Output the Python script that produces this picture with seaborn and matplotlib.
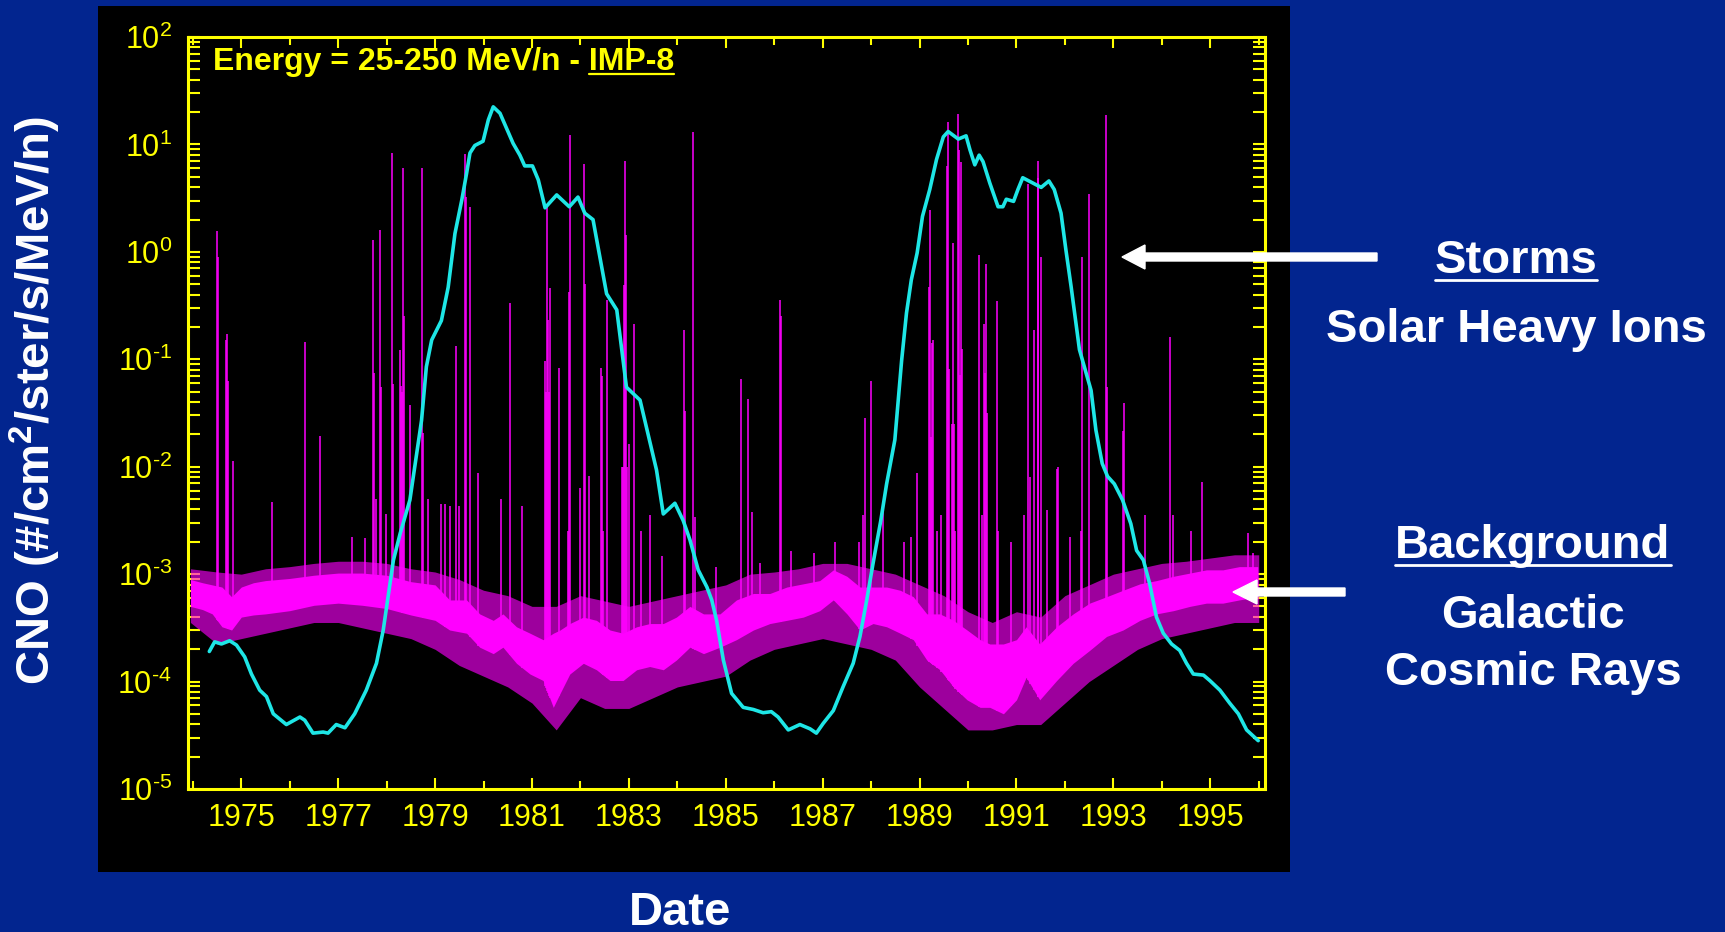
import numpy as np
import pandas as pd
import seaborn as sns
import matplotlib
matplotlib.use("Agg")
from matplotlib import pyplot as plt
from matplotlib.patches import Rectangle, FancyArrow
from matplotlib.lines import Line2D
from matplotlib.ticker import (FixedLocator, MultipleLocator, LogLocator,
                               NullFormatter, FuncFormatter)
from matplotlib.transforms import IdentityTransform

# ---- data (log10 of flux) ----
tick_years = [1975, 1977, 1979, 1981, 1983, 1985, 1987, 1989, 1991, 1993, 1995]

# smooth cyan curve: (year, log10 flux)
gcr_curve = [
    (1974.34, -3.72), (1974.45, -3.63), (1974.59, -3.65), (1974.76, -3.62), (1974.90, -3.66),
    (1975.07, -3.77), (1975.21, -3.93), (1975.38, -4.08), (1975.52, -4.14), (1975.66, -4.30),
    (1975.93, -4.40), (1976.21, -4.33), (1976.31, -4.36), (1976.48, -4.48), (1976.69, -4.47),
    (1976.79, -4.48), (1976.96, -4.40), (1977.14, -4.43), (1977.34, -4.30), (1977.58, -4.08),
    (1977.79, -3.83), (1977.93, -3.52), (1978.03, -3.21), (1978.14, -2.87), (1978.28, -2.62),
    (1978.48, -2.31), (1978.72, -1.57), (1978.82, -1.07), (1978.93, -0.82), (1979.13, -0.64),
    (1979.27, -0.33), (1979.41, 0.17), (1979.55, 0.48), (1979.65, 0.73), (1979.72, 0.92),
    (1979.82, 0.99), (1979.99, 1.03), (1980.10, 1.23), (1980.20, 1.35), (1980.34, 1.29),
    (1980.61, 1.01), (1980.75, 0.90), (1980.85, 0.80), (1981.01, 0.80), (1981.13, 0.67),
    (1981.27, 0.41), (1981.51, 0.53), (1981.77, 0.42), (1981.95, 0.51), (1982.09, 0.36),
    (1982.26, 0.30), (1982.54, -0.39), (1982.75, -0.54), (1982.95, -1.26), (1983.09, -1.32),
    (1983.23, -1.38), (1983.57, -2.03), (1983.71, -2.44), (1983.95, -2.34), (1984.12, -2.50),
    (1984.26, -2.68), (1984.43, -2.96), (1984.61, -3.12), (1984.71, -3.24), (1984.81, -3.43),
    (1984.95, -3.80), (1985.12, -4.11), (1985.36, -4.24), (1985.57, -4.26), (1985.77, -4.29),
    (1985.94, -4.28), (1986.08, -4.33), (1986.29, -4.45), (1986.53, -4.40), (1986.74, -4.44),
    (1986.87, -4.48), (1987.01, -4.39), (1987.22, -4.27), (1987.42, -4.05), (1987.63, -3.83),
    (1987.77, -3.58), (1987.91, -3.24), (1988.04, -2.90), (1988.20, -2.50), (1988.32, -2.16),
    (1988.49, -1.75), (1988.63, -1.01), (1988.73, -0.57), (1988.83, -0.26), (1988.95, -0.01),
    (1989.06, 0.33), (1989.21, 0.58), (1989.35, 0.86), (1989.49, 1.07), (1989.59, 1.12),
    (1989.80, 1.05), (1989.96, 1.08), (1990.04, 0.95), (1990.14, 0.81), (1990.23, 0.90),
    (1990.31, 0.84), (1990.45, 0.64), (1990.62, 0.42), (1990.72, 0.42), (1990.79, 0.49),
    (1990.94, 0.47), (1991.03, 0.58), (1991.13, 0.69), (1991.30, 0.65), (1991.51, 0.60),
    (1991.67, 0.66), (1991.78, 0.58), (1991.92, 0.36), (1992.02, 0.02), (1992.13, -0.33),
    (1992.23, -0.67), (1992.30, -0.91), (1992.44, -1.13), (1992.54, -1.29), (1992.64, -1.66),
    (1992.77, -1.97), (1992.88, -2.09), (1993.02, -2.16), (1993.19, -2.31), (1993.36, -2.53),
    (1993.48, -2.78), (1993.62, -2.87), (1993.75, -3.09), (1993.89, -3.40), (1994.03, -3.55),
    (1994.20, -3.65), (1994.37, -3.71), (1994.51, -3.83), (1994.65, -3.93), (1994.86, -3.94),
    (1994.99, -3.99), (1995.20, -4.08), (1995.40, -4.20), (1995.58, -4.30), (1995.75, -4.45),
    (1995.99, -4.55),
]

# dense galactic background band (core), log10 flux
band_years = [1973.95, 1974.2, 1974.4, 1974.6, 1974.8, 1975.0, 1975.25, 1975.5, 1976.0, 1976.5,
              1977.0, 1977.5, 1978.0, 1978.5, 1979.0, 1979.3, 1979.65, 1979.92, 1980.2, 1980.4,
              1980.68, 1980.96, 1981.23, 1981.44, 1981.58, 1981.78, 1982.06, 1982.33, 1982.61, 1982.88,
              1983.16, 1983.43, 1983.71, 1983.98, 1984.26, 1984.54, 1984.88, 1985.22, 1985.57, 1985.91,
              1986.26, 1986.6, 1986.94, 1987.22, 1987.5, 1987.77, 1988.04, 1988.32, 1988.6, 1988.87,
              1989.15, 1989.42, 1989.7, 1989.98, 1990.25, 1990.45, 1990.73, 1991.0, 1991.2, 1991.48,
              1991.83, 1992.17, 1992.51, 1992.86, 1993.2, 1993.55, 1993.89, 1994.24, 1994.58, 1994.92,
              1995.26, 1995.6, 1995.98]
band_hi = [-3.05, -3.08, -3.10, -3.12, -3.21, -3.12, -3.08, -3.06, -3.04, -3.01,
           -2.99, -2.99, -3.01, -3.07, -3.10, -3.24, -3.24, -3.37, -3.43, -3.37,
           -3.49, -3.55, -3.61, -3.55, -3.52, -3.46, -3.40, -3.43, -3.52, -3.55,
           -3.49, -3.46, -3.46, -3.40, -3.30, -3.37, -3.37, -3.24, -3.18, -3.18,
           -3.12, -3.09, -3.06, -2.96, -3.02, -3.12, -3.12, -3.12, -3.15, -3.21,
           -3.37, -3.37, -3.43, -3.52, -3.61, -3.65, -3.65, -3.61, -3.49, -3.65,
           -3.49, -3.37, -3.27, -3.21, -3.15, -3.09, -3.06, -3.02, -2.99, -2.96,
           -2.96, -2.93, -2.93]
band_lo = [-3.30, -3.33, -3.37, -3.49, -3.52, -3.40, -3.38, -3.37, -3.34, -3.29,
           -3.27, -3.29, -3.32, -3.38, -3.43, -3.52, -3.55, -3.68, -3.74, -3.68,
           -3.83, -3.93, -3.99, -4.24, -4.11, -3.93, -3.83, -3.89, -3.99, -3.99,
           -3.89, -3.86, -3.89, -3.80, -3.68, -3.74, -3.68, -3.61, -3.52, -3.46,
           -3.43, -3.40, -3.34, -3.24, -3.37, -3.52, -3.46, -3.49, -3.55, -3.61,
           -3.80, -3.89, -4.05, -4.17, -4.24, -4.24, -4.30, -4.17, -3.96, -4.17,
           -3.99, -3.83, -3.71, -3.58, -3.52, -3.43, -3.37, -3.34, -3.30, -3.27,
           -3.27, -3.24, -3.21]

# sparse fringe around the band, log10 flux
fringe_years = [1973.95, 1974.5, 1975.0, 1975.5, 1976.0, 1976.5, 1977.0, 1977.5, 1978.0, 1978.5,
                1979.0, 1979.5, 1980.0, 1980.5, 1981.0, 1981.5, 1982.0, 1982.5, 1983.0, 1983.5,
                1984.0, 1984.5, 1985.0, 1985.5, 1986.0, 1986.5, 1987.0, 1987.5, 1988.0, 1988.5,
                1989.0, 1989.5, 1990.0, 1990.5, 1991.0, 1991.5, 1992.0, 1992.5, 1993.0, 1993.5,
                1994.0, 1994.5, 1995.0, 1995.5, 1996.0]
fringe_hi = [-2.95, -2.98, -3.0, -2.95, -2.93, -2.9, -2.88, -2.88, -2.9, -2.95,
             -2.98, -3.05, -3.15, -3.2, -3.3, -3.3, -3.2, -3.25, -3.3, -3.25,
             -3.2, -3.15, -3.1, -3.0, -2.98, -2.95, -2.9, -2.9, -2.95, -3.0,
             -3.1, -3.2, -3.35, -3.45, -3.35, -3.4, -3.2, -3.1, -3.0, -2.95,
             -2.9, -2.88, -2.85, -2.82, -2.82]
fringe_lo = [-3.45, -3.65, -3.6, -3.55, -3.5, -3.45, -3.45, -3.5, -3.55, -3.6,
             -3.7, -3.85, -3.95, -4.05, -4.2, -4.45, -4.15, -4.25, -4.25, -4.15,
             -4.05, -4.0, -3.95, -3.8, -3.7, -3.65, -3.6, -3.65, -3.7, -3.8,
             -4.05, -4.25, -4.45, -4.45, -4.4, -4.4, -4.2, -4.0, -3.85, -3.7,
             -3.6, -3.55, -3.5, -3.45, -3.45]

# solar storm spikes: (year, log10 peak flux)
storm_spikes = [
    (1974.49, 0.19), (1974.51, -0.05), (1974.68, -0.82), (1974.70, -0.76), (1974.72, -1.20),
    (1974.83, -1.95), (1975.63, -2.33), (1976.32, -0.84), (1976.63, -1.71), (1977.29, -2.65),
    (1977.55, -2.66), (1977.72, 0.11), (1977.74, -1.13), (1977.78, -2.30), (1977.87, 0.20),
    (1977.89, -1.26), (1977.98, -2.44), (1978.11, 0.92), (1978.13, -1.23), (1978.27, -0.91),
    (1978.29, -1.25), (1978.31, -1.30), (1978.33, 0.78), (1978.35, -0.60), (1978.48, -1.43),
    (1978.73, 0.78), (1978.75, -1.69), (1978.86, -2.30), (1979.12, -2.35), (1979.20, -2.35),
    (1979.30, -2.37), (1979.44, -0.88), (1979.50, -2.37), (1979.62, 0.91), (1979.64, 0.51),
    (1979.72, 0.42), (1979.89, -2.06), (1980.37, -2.30), (1980.54, -0.48), (1980.80, -2.37),
    (1981.27, -1.02), (1981.29, -1.30), (1981.31, 0.45), (1981.33, -0.63), (1981.35, -1.30),
    (1981.37, -0.34), (1981.55, -1.08), (1981.75, -2.60), (1981.77, -0.37), (1981.78, 1.09),
    (1981.99, -2.20), (1982.07, 0.82), (1982.09, -0.30), (1982.18, -2.09), (1982.42, -1.08),
    (1982.44, -1.16), (1982.46, -2.60), (1982.54, -0.45), (1982.86, -2.00), (1982.88, -2.00),
    (1982.90, -0.31), (1982.92, 0.85), (1982.94, 0.16), (1982.96, -2.00), (1983.00, -1.79),
    (1983.11, -0.67), (1983.25, -2.60), (1983.43, -2.45), (1983.68, -2.83), (1984.13, -0.73),
    (1984.15, -1.48), (1984.33, 1.12), (1984.37, -2.47), (1984.80, -2.93), (1985.32, -1.18),
    (1985.45, -1.37), (1985.55, -2.42), (1985.71, -2.90), (1986.11, -0.45), (1986.13, -0.60),
    (1986.34, -2.78), (1986.82, -2.80), (1987.25, -2.70), (1987.76, -2.70), (1987.84, -2.45),
    (1987.87, -1.55), (1988.00, -1.20), (1988.24, -2.36), (1988.67, -2.70), (1988.83, -2.65),
    (1988.95, -2.06), (1989.20, -0.33), (1989.21, 0.39), (1989.23, -1.72), (1989.25, -0.85),
    (1989.28, -0.82), (1989.36, -2.60), (1989.45, -2.45), (1989.56, 0.80), (1989.59, 1.21),
    (1989.61, -1.09), (1989.66, -1.60), (1989.69, 0.08), (1989.71, -1.60), (1989.74, -2.60),
    (1989.80, 1.28), (1989.82, 0.95), (1989.84, -1.15), (1989.86, 0.84), (1989.88, -0.90),
    (1990.22, -0.03), (1990.29, -2.45), (1990.32, -0.67), (1990.35, -1.13), (1990.37, -0.11),
    (1990.40, -1.50), (1990.60, -0.46), (1990.61, -2.60), (1990.88, -2.70), (1991.16, -2.45),
    (1991.23, 0.63), (1991.28, -2.10), (1991.36, -0.73), (1991.44, 0.85), (1991.45, 0.69),
    (1991.51, -0.05), (1991.64, -2.40), (1991.83, -2.02), (1991.86, -2.00), (1992.11, -2.65),
    (1992.34, -2.60), (1992.36, -0.05), (1992.50, 0.54), (1992.84, 1.27), (1992.86, -1.26),
    (1993.19, -1.67), (1993.22, -1.41), (1993.65, -2.45), (1994.16, -0.79), (1994.24, -2.45),
    (1994.60, -2.60), (1994.82, -2.14), (1995.78, -2.62), (1995.89, -2.80),
]

NAVY = '#02258f'
YELLOW = '#ffff00'
MAGENTA = '#ff00ff'
CYAN = '#1ee6e6'
PX = IdentityTransform()

sns.set_theme(style="ticks")
plt.rcParams['font.family'] = ['Liberation Sans', 'DejaVu Sans']
plt.rcParams['mathtext.fontset'] = 'custom'
plt.rcParams['mathtext.rm'] = 'Liberation Sans'
plt.rcParams['mathtext.it'] = 'Liberation Sans:italic'
plt.rcParams['mathtext.bf'] = 'Liberation Sans:bold'
plt.rcParams['axes.unicode_minus'] = False


def decade_label(val, pos):
    exp = int(round(np.log10(val)))
    sign = r'\text{-}' if exp < 0 else ''
    return r'$\mathdefault{10^{%s%d}}$' % (sign, abs(exp))


fig = plt.figure(figsize=(17.25, 9.32), dpi=100, facecolor=NAVY)
# black plot panel behind the axes
fig.add_artist(Rectangle((98, 60), 1192, 866, transform=PX, facecolor='black',
                         edgecolor='none', zorder=-1))

ax = fig.add_axes([188 / 1725, 143 / 932, 1077 / 1725, 752 / 932])
ax.set_facecolor('black')
ax.set_yscale('log')

ax.fill_between(fringe_years, 10 ** np.array(fringe_lo), 10 ** np.array(fringe_hi),
                color=MAGENTA, alpha=0.62, lw=0)
ax.fill_between(band_years, 10 ** np.array(band_lo), 10 ** np.array(band_hi),
                color=MAGENTA, lw=0)

spikes = np.array(storm_spikes)
base = 10 ** np.interp(spikes[:, 0], band_years, band_lo)
ax.vlines(spikes[:, 0], base, 10 ** spikes[:, 1], color=MAGENTA, lw=1.1)

curve = pd.DataFrame(gcr_curve, columns=['year', 'logflux'])
curve['flux'] = 10 ** curve['logflux']
sns.lineplot(data=curve, x='year', y='flux', ax=ax, color=CYAN, lw=2.6,
             estimator=None, sort=False)

ax.set_xlim(1973.9, 1996.13)
ax.set_ylim(1e-5, 1e2)
ax.set_xlabel('')
ax.set_ylabel('')

ax.xaxis.set_major_locator(FixedLocator(tick_years))
ax.xaxis.set_minor_locator(MultipleLocator(1))
ax.set_xticklabels([str(y) for y in tick_years])
ax.yaxis.set_major_locator(LogLocator(base=10, numticks=20))
ax.yaxis.set_minor_locator(LogLocator(base=10, subs=np.arange(2, 10), numticks=20))
ax.yaxis.set_major_formatter(FuncFormatter(decade_label))
ax.yaxis.set_minor_formatter(NullFormatter())

ax.tick_params(axis='both', which='both', direction='in', colors=YELLOW,
               top=True, right=True, width=1.5)
ax.tick_params(axis='x', which='major', length=8, pad=10, labelsize=22)
ax.tick_params(axis='x', which='minor', length=5.5)
ax.tick_params(axis='y', which='both', length=8.5, pad=11.5, labelsize=22)
for sp in ax.spines.values():
    sp.set_color(YELLOW)
    sp.set_linewidth(2.2)

# texts
title = fig.text(213, 862, 'Energy = 25-250 MeV/n - IMP-8', transform=PX, color=YELLOW,
                 fontsize=23, fontweight='bold', ha='left', va='baseline')
white = dict(transform=PX, color='white', fontsize=34, fontweight='bold', va='baseline', ha='center')
storms = fig.text(1516, 659, 'Storms', **white)
fig.text(1516, 590, 'Solar Heavy Ions', **white)
backgr = fig.text(1533, 374, 'Background', **white)
fig.text(1533, 304, 'Galactic', **white)
fig.text(1533, 247, 'Cosmic Rays', **white)
fig.text(680, 7, 'Date', **white)
fig.text(35, 531, r'CNO (#/cm$^\mathbf{2}$/ster/s/MeV/n)', transform=PX, color='white',
         fontsize=34, fontweight='bold', rotation=90, ha='center', va='center')

# arrows
fig.add_artist(FancyArrow(1377, 675, 1122 - 1377, 0, width=8, head_width=24, head_length=23,
                          length_includes_head=True, color='white', transform=PX, zorder=5))
fig.add_artist(FancyArrow(1345, 340, 1233 - 1345, 0, width=8, head_width=24, head_length=24,
                          length_includes_head=True, color='white', transform=PX, zorder=5))

# underlines
fig.canvas.draw()
renderer = fig.canvas.get_renderer()
for txt, y in [(storms, 652.5), (backgr, 367)]:
    bb = txt.get_window_extent(renderer)
    fig.add_artist(Line2D([bb.x0, bb.x1], [y, y], transform=PX, color='white', lw=2))
tmp = fig.text(0, 0, 'IMP-8', transform=PX, fontsize=23, fontweight='bold')
w_imp = tmp.get_window_extent(renderer).width
tmp.remove()
tb = title.get_window_extent(renderer)
fig.add_artist(Line2D([tb.x1 - w_imp, tb.x1], [858, 858], transform=PX, color=YELLOW, lw=1.6))

fig.savefig('out.png', dpi=100, facecolor=NAVY)
